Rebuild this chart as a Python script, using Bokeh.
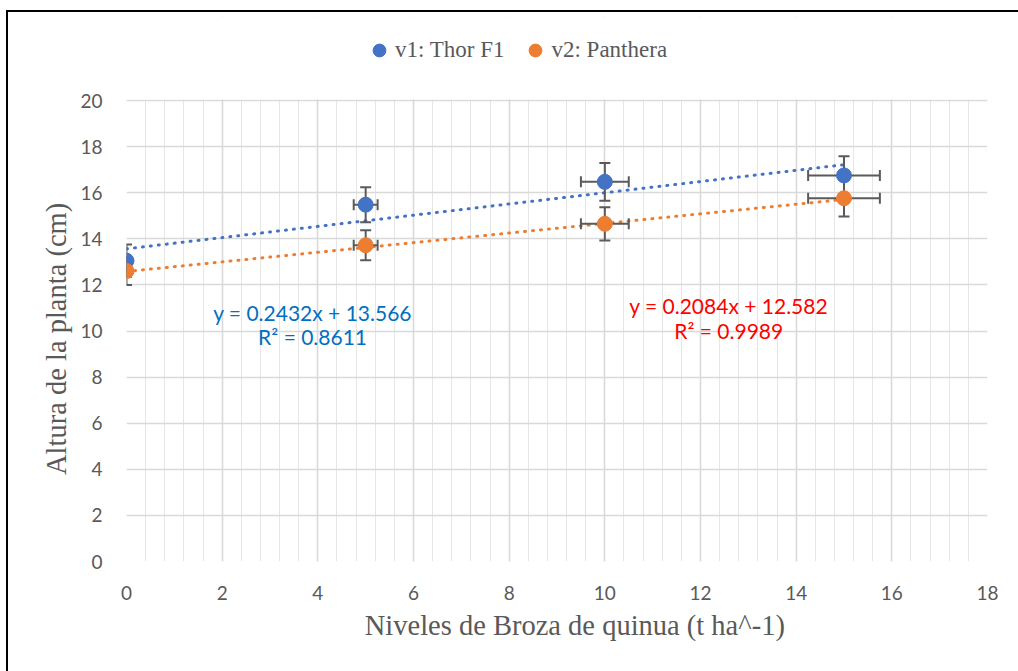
from bokeh.plotting import figure
from bokeh.models import Legend, LegendItem, Label, FixedTicker
from bokeh.embed import file_html
from bokeh.resources import INLINE
import numpy as np

# Broza levels (t/ha) and plant height (cm) for the two varieties
niveles = [0, 5, 10, 15]
v1_altura = [13.05, 15.48, 16.47, 16.75]
v2_altura = [12.6, 13.72, 14.65, 15.76]

# Error bar half-lengths
v1_err_y_up = [0.7, 0.76, 0.82, 0.83]
v1_err_y_dn = [0.7, 0.76, 0.82, 0.83]
v2_err_y_up = [0.6, 0.65, 0.72, 0.79]
v2_err_y_dn = [0.6, 0.65, 0.72, 0.79]
err_x = [0.0, 0.25, 0.5, 0.75]

# Linear trend fits
v1_slope, v1_intercept, v1_r2 = 0.2432, 13.566, 0.8611
v2_slope, v2_intercept, v2_r2 = 0.2084, 12.582, 0.9989

x_ticks = [0, 2, 4, 6, 8, 10, 12, 14, 16, 18]
y_ticks = [0, 2, 4, 6, 8, 10, 12, 14, 16, 18, 20]
X_MAX, Y_MAX = 18, 20

BLUE = "#4472C4"
ORANGE = "#ED7D31"
GRAY = "#595959"
ERR = "#5a5a5a"
NBSP = "\u00a0"

# the frame also holds the legend band above the 0..20 plotting area
PLOT_H = 461      # pixels used by 0..Y_MAX
FRAME_H = 545     # frame height incl. legend band
y_top = Y_MAX * FRAME_H / PLOT_H

p = figure(frame_width=861, frame_height=FRAME_H,
           x_range=(0, X_MAX), y_range=(0, y_top),
           output_backend="svg", toolbar_location=None,
           min_border_left=118, min_border_right=31,
           min_border_top=4, min_border_bottom=110,
           background_fill_color="white", border_fill_color="white",
           styles={"margin-left": "6px", "margin-top": "10px",
                   "border-left": "2px solid #000", "border-top": "2px solid #000"})
p.outline_line_color = None

# grid
p.xgrid.ticker = FixedTicker(ticks=x_ticks,
                             minor_ticks=[i * 0.4 for i in range(46)])
p.ygrid.ticker = FixedTicker(ticks=y_ticks)
p.xgrid.grid_line_color = "#d9d9d9"
p.ygrid.grid_line_color = "#d9d9d9"
p.xgrid.grid_line_width = 1.6
p.ygrid.grid_line_width = 1.6
p.xgrid.minor_grid_line_color = "#e6e6e6"
p.xgrid.minor_grid_line_width = 1

for ax in (p.xaxis, p.yaxis):
    ax.axis_line_color = None
    ax.major_tick_line_color = None
    ax.minor_tick_line_color = None
    ax.major_label_text_font = "Lato"
    ax.major_label_text_font_size = "19px"
    ax.major_label_text_color = GRAY
    ax.axis_label_text_font = "Liberation Serif"
    ax.axis_label_text_font_style = "normal"
    ax.axis_label_text_color = GRAY
    ax.axis_label_text_font_size = "28.5px"
    ax.major_label_standoff = 18
p.xaxis.ticker = FixedTicker(ticks=x_ticks)
p.yaxis.ticker = FixedTicker(ticks=y_ticks)
p.xaxis.axis_label = NBSP * 5 + "Niveles de Broza de quinua (t ha^-1)"
# trailing spaces centre the title on the 0..20 span rather than the frame
p.yaxis.axis_label = "Altura de la planta (cm)" + NBSP * 14
p.xaxis.axis_label_standoff = 7
p.yaxis.axis_label_standoff = 5

# white band hiding the vertical grid above the plotting area
p.quad(left=[0], right=[X_MAX], bottom=[Y_MAX + 0.04], top=[y_top],
       fill_color="white", line_color=None)

# trend lines
tx = np.array([niveles[0], niveles[-1]], dtype=float)
p.line(tx, v1_slope * tx + v1_intercept, line_color=BLUE, line_width=3,
       line_dash="1 7", line_cap="round")
p.line(tx, v2_slope * tx + v2_intercept, line_color=ORANGE, line_width=3,
       line_dash="1 7", line_cap="round")


def error_bars(y, up, dn):
    x = np.array(niveles, dtype=float)
    y = np.array(y)
    up = np.array(up)
    dn = np.array(dn)
    ex = np.array(err_x)
    p.segment(x, y - dn, x, y + up, line_color=ERR, line_width=2)
    p.scatter(np.concatenate([x, x]), np.concatenate([y - dn, y + up]),
              marker="dash", size=11, line_color=ERR, line_width=2)
    m = ex > 0
    p.segment(x[m] - ex[m], y[m], x[m] + ex[m], y[m], line_color=ERR, line_width=2)
    p.scatter(np.concatenate([x[m] - ex[m], x[m] + ex[m]]),
              np.concatenate([y[m], y[m]]),
              marker="dash", angle=np.pi / 2, size=11, line_color=ERR, line_width=2)


error_bars(v1_altura, v1_err_y_up, v1_err_y_dn)
error_bars(v2_altura, v2_err_y_up, v2_err_y_dn)

r1 = p.scatter(niveles, v1_altura, size=15, fill_color=BLUE, line_color=BLUE)
r2 = p.scatter(niveles, v2_altura, size=15, fill_color=ORANGE, line_color=ORANGE)

# equations
for x, y, txt, col in [
    (3.89, 10.8, f"y = {v1_slope}x + {v1_intercept}", "#0070C0"),
    (3.89, 9.76, f"R² = {v1_r2}", "#0070C0"),
    (12.59, 11.1, f"y = {v2_slope}x + {v2_intercept}", "#FF0000"),
    (12.59, 10.04, f"R² = {v2_r2}", "#FF0000"),
]:
    p.add_layout(Label(x=x, y=y, text=txt, text_color=col, text_font="Lato",
                       text_font_size="21px", text_align="center",
                       text_baseline="middle"))

legend = Legend(items=[LegendItem(label="v1: Thor F1", renderers=[r1]),
                       LegendItem(label="v2: Panthera", renderers=[r2])],
                orientation="horizontal", location=(237, 495),
                label_text_font="Liberation Serif", label_text_font_size="23px",
                label_text_color=GRAY, background_fill_alpha=0,
                border_line_color=None, glyph_width=32, glyph_height=32,
                label_standoff=0, spacing=15, padding=4, margin=0)
p.add_layout(legend, "center")

open("out.html", "w").write(file_html(p, INLINE))
